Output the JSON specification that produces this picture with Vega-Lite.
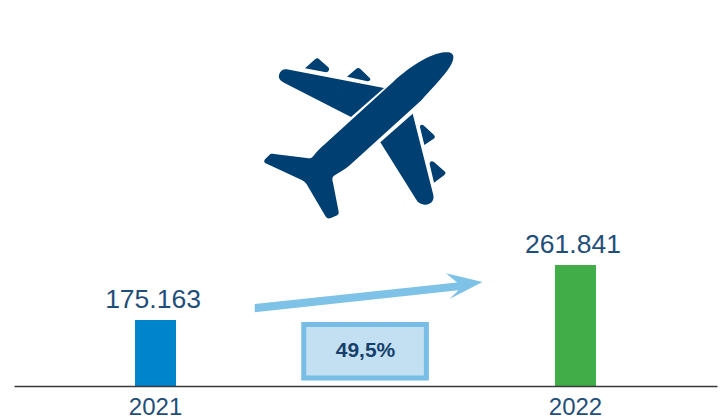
{
"$schema":"https://vega.github.io/schema/vega-lite/v6.json",
"width":703,"height":386,
"padding":{"left":14,"top":0,"right":9,"bottom":32},
"autosize":{"type":"none"},
"background":"white",
"view":{"stroke":null},
"config":{"font":"Liberation Sans"},
"datasets":{
"bars":[{"year":2021,"value":175163,"base":71147,"label":"175.163"},{"year":2022,"value":261841,"base":71147,"label":"261.841"}],
"change":[{"year":2021.353,"year2":2021.645,"value":168071,"value2":83755,"mid":2021.5,"midValue":126307,"label":"49,5%"}],
"anchor":[{"year":2021.225,"value":616443}]
},
"encoding":{
"x":{"field":"year","type":"quantitative","scale":{"domain":[2020.663,2022.337],"nice":false,"zero":false,"padding":0},
"axis":{"title":null,"values":[2021,2022],"format":"d","grid":false,"ticks":false,"domainColor":"#3a3a3a","domainWidth":1.5,"labelFontSize":24,"labelColor":"#1f4e79","labelPadding":9,"labelOffset":-0.5,"labelFont":"Liberation Sans","labelOverlap":false,"zindex":1}},
"y":{"field":"value","type":"quantitative","scale":{"domain":[71147,679483],"nice":false,"zero":false,"padding":0},"axis":null}
},
"layer":[
{"data":{"name":"bars"},"mark":{"type":"bar","width":41},
 "encoding":{"y2":{"field":"base"},"color":{"field":"year","type":"nominal","legend":null,"scale":{"domain":[2021,2022],"range":["#0084cc","#41ad49"]}}}},
{"data":{"name":"bars"},"mark":{"type":"text","fontSize":26.5,"color":"#1f4e79","dy":-12,"dx":-2.5,"baseline":"alphabetic","align":"center"},
 "encoding":{"text":{"field":"label","type":"nominal"}}},
{"data":{"name":"anchor"},"mark":{"type":"point","filled":true,"opacity":1,"size":0.4444,"color":"#003f72","stroke":null,
 "shape":"M 585 37 C 600 35 612 40 610 55 C 606 85 560 130 515 180 L 300 375 C 285 388 265 400 252 407 C 245 412 247 420 249 428 L 266 515 C 267 522 264 525 258 527 L 243 534 C 235 537 230 535 226 528 L 170 433 C 165 425 160 423 155 420 L 47 370 C 42 367 41 363 45 358 L 58 345 C 62 340 66 341 72 342 L 170 354 C 180 356 185 355 190 348 C 200 335 210 325 225 312 L 430 125 C 480 80 540 40 585 37 Z M 110 88 L 402 144 L 303 231 L 105 130 C 90 122 85 115 87 105 C 90 93 98 87 110 88 Z M 488 221 L 550 465 C 553 480 545 492 528 494 C 515 495 505 490 498 478 L 391 307 Z M 165 85 L 196 57 C 201 53 205 55 209 59 L 235 82 C 240 88 236 97 228 97 Z M 291 110 L 319 86 C 324 82 328 84 332 88 L 360 115 C 363 120 358 124 352 124 Z M 523 315 L 510 262 C 509 254 516 252 522 257 L 552 285 C 556 290 555 293 551 296 Z M 552 428 L 539 373 C 538 364 546 361 552 366 L 585 395 C 588 399 586 402 583 405 Z"}},
{"data":{"name":"anchor"},"mark":{"type":"point","filled":true,"opacity":1,"size":4,"color":"#7fc2e8","stroke":null,
 "shape":"M 4.7 264 L 207 242.4 L 196 233.3 L 232.5 242 L 199.5 259 L 208.5 250.2 L 4.7 272.2 Z"}},
{"data":{"name":"change"},"mark":{"type":"rect","fill":"#c3e0f3","stroke":"#77bde6","strokeWidth":5},
 "encoding":{"x2":{"field":"year2"},"y2":{"field":"value2"}}},
{"data":{"name":"change"},"mark":{"type":"text","fontSize":21,"fontWeight":"bold","color":"#173f6b","baseline":"middle","align":"center"},
 "encoding":{"x":{"field":"mid","type":"quantitative"},"y":{"field":"midValue","type":"quantitative"},"text":{"field":"label","type":"nominal"}}}
]
}
